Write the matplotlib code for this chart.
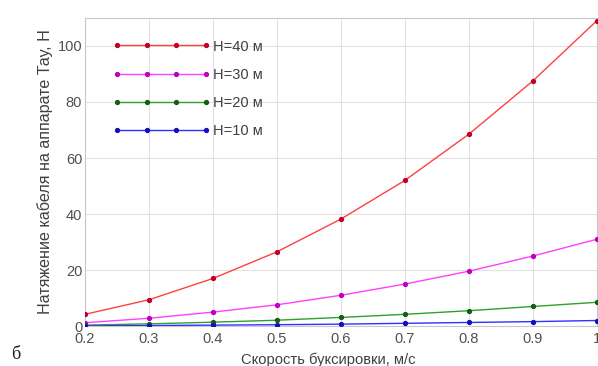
import matplotlib
matplotlib.use("Agg")
import matplotlib.pyplot as plt

speed = [0.2, 0.3, 0.4, 0.5, 0.6, 0.7, 0.8, 0.9, 1.0]
h40 = [4.2, 9.4, 17.0, 26.5, 38.2, 52.0, 68.5, 87.5, 109.0]
h30 = [1.2, 2.8, 5.0, 7.6, 11.0, 15.0, 19.6, 25.0, 31.0]
h20 = [0.35, 0.8, 1.4, 2.1, 3.1, 4.2, 5.5, 7.0, 8.5]
h10 = [0.1, 0.2, 0.35, 0.5, 0.7, 1.0, 1.3, 1.6, 2.0]
labels = ["H=40 м", "H=30 м", "H=20 м", "H=10 м"]
xticks = [0.2, 0.3, 0.4, 0.5, 0.6, 0.7, 0.8, 0.9, 1.0]
xticklabels = ["0.2", "0.3", "0.4", "0.5", "0.6", "0.7", "0.8", "0.9", "1"]
yticks = [0, 20, 40, 60, 80, 100]

plt.rcParams['font.family'] = ['Liberation Sans', 'DejaVu Sans']

fig = plt.figure(figsize=(5.98, 3.66), dpi=100)
ax = fig.add_axes([0.142, 0.109, 0.856, 0.842])

series = [h40, h30, h20, h10]
lcolors = ["#ff4040", "#ff40ff", "#30a030", "#3030ff"]
mcolors = ["#c0002a", "#c000c0", "#106010", "#1010c0"]
for ys, lab, lc, mc in zip(series, labels, lcolors, mcolors):
    ax.plot(speed, ys, '-', color=lc, lw=1.0, marker='o', ms=2.8,
            mfc=mc, mec=mc, label=lab, zorder=3)

ax.set_xlim(0.2, 1.0)
ax.set_ylim(0, 110)
ax.set_xticks(xticks)
ax.set_xticklabels(xticklabels)
ax.set_yticks(yticks)
ax.grid(True, color="#e2e2e2", lw=0.8)
ax.set_axisbelow(True)
for s in ax.spines.values():
    s.set_color("#c8c8c8")
    s.set_linewidth(0.8)
ax.tick_params(axis='both', length=0, labelsize=10.5, colors="#505050", pad=2)
ax.tick_params(axis='x', pad=4)

ax.set_xlabel("Скорость буксировки, м/с", fontsize=10.6, color="#404040", labelpad=5)
ax.xaxis.set_label_coords(0.475, -0.085)
ax.xaxis.label.set_va('top')
ax.set_ylabel("Натяжение кабеля на аппарате Тау, Н", fontsize=11.6, color="#404040", labelpad=3)

leg = ax.legend(loc='upper left', bbox_to_anchor=(0.054, 0.93), frameon=False,
                numpoints=4, handlelength=6.7, handletextpad=0.2,
                labelspacing=0.98, borderpad=0, borderaxespad=0, fontsize=10.5)
for t in leg.get_texts():
    t.set_color("#404040")

fig.text(0.018, 0.02, "б", fontsize=13, family=['Liberation Serif', 'DejaVu Serif'], color="#202020")

fig.savefig("out.png", dpi=100)
